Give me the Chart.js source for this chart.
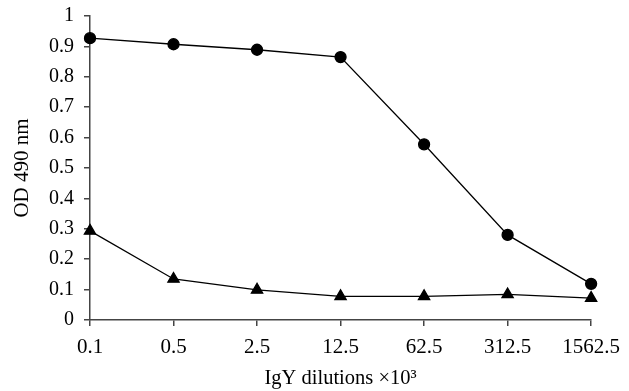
<!DOCTYPE html>
<html>
<head>
<meta charset="utf-8">
<script src="https://cdn.jsdelivr.net/npm/chart.js@4"></script>
<style>
html,body{margin:0;padding:0;background:#fff;}
#wrap{width:629px;height:391px;position:relative;}
</style>
</head>
<body>
<div id="wrap"><canvas id="c" width="629" height="391"></canvas></div>
<script>
const categories = ["0.1", "0.5", "2.5", "12.5", "62.5", "312.5", "1562.5"];
const circleSeries = [0.927, 0.907, 0.889, 0.865, 0.578, 0.280, 0.119];
const triangleSeries = [0.293, 0.135, 0.099, 0.078, 0.078, 0.084, 0.072];
const yTickLabels = ["0", "0.1", "0.2", "0.3", "0.4", "0.5", "0.6", "0.7", "0.8", "0.9", "1"];

const FONT = "'Liberation Serif', 'Times New Roman', serif";
const axisColor = '#444';

new Chart(document.getElementById('c'), {
  type: 'line',
  data: {
    labels: categories,
    datasets: [
      {
        data: circleSeries,
        borderColor: '#000',
        borderWidth: 1.3,
        pointStyle: 'circle',
        pointRadius: 5.5,
        pointBackgroundColor: '#000',
        pointBorderColor: '#000',
        tension: 0,
        fill: false
      },
      {
        data: triangleSeries,
        borderColor: '#000',
        borderWidth: 1.3,
        pointStyle: 'triangle',
        pointRadius: 6.5,
        pointBackgroundColor: '#000',
        pointBorderColor: '#000',
        tension: 0,
        fill: false
      }
    ]
  },
  options: {
    responsive: false,
    animation: false,
    devicePixelRatio: 1,
    layout: { padding: { top: 16, right: 20, left: 10, bottom: 0 } },
    plugins: { legend: { display: false }, tooltip: { enabled: false } },
    scales: {
      x: {
        type: 'category',
        offset: false,
        grid: { drawOnChartArea: false, drawTicks: true, tickLength: 6, color: axisColor, lineWidth: 1.5 },
        border: { color: axisColor, width: 1.5 },
        ticks: { color: '#000', font: { family: FONT, size: 21 }, padding: 9, maxRotation: 0, autoSkip: false },
        title: { display: true, text: 'IgY dilutions ×10³', color: '#000', font: { family: FONT, size: 20.5 }, padding: { top: 2, bottom: 0 } },
        afterFit: (s) => { s.height = 71; }
      },
      y: {
        min: 0, max: 1,
        grid: { drawOnChartArea: false, drawTicks: true, tickLength: 6, color: axisColor, lineWidth: 1.5 },
        border: { color: axisColor, width: 1.5 },
        ticks: {
          stepSize: 0.1,
          color: '#000',
          font: { family: FONT, size: 20 },
          padding: 10,
          callback: (v, i) => yTickLabels[i]
        },
        title: { display: true, text: 'OD 490 nm', color: '#000', font: { family: FONT, size: 21 }, padding: { top: 0, bottom: 4 } },
        afterFit: (s) => { s.width = 80; s.paddingTop = 0; s.paddingBottom = 0; }
      }
    }
  }
});
</script>
</body>
</html>
